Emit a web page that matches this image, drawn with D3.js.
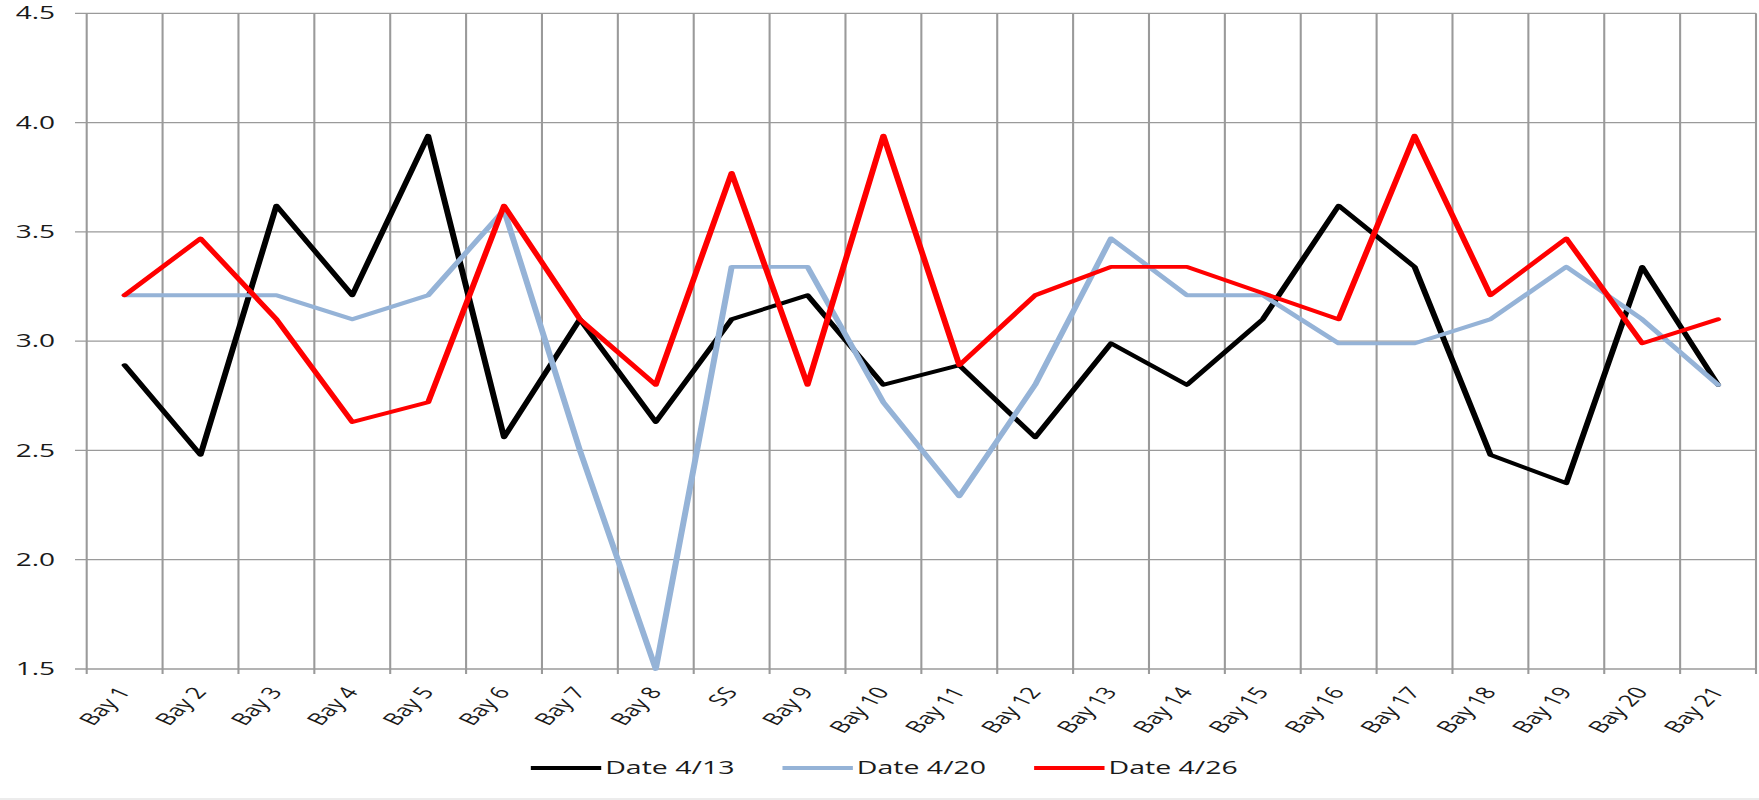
<!DOCTYPE html>
<html>
<head>
<meta charset="utf-8">
<script src="https://cdn.jsdelivr.net/npm/d3@7"></script>
<style>
html, body { margin: 0; padding: 0; background: #ffffff; overflow: hidden; }
svg { display: block; }
</style>
</head>
<body>
<svg id="chart" width="1759" height="800"></svg>
<script>
// ---------------- DATA ----------------
const categories = ["Bay 1","Bay 2","Bay 3","Bay 4","Bay 5","Bay 6","Bay 7","Bay 8","SS",
  "Bay 9","Bay 10","Bay 11","Bay 12","Bay 13","Bay 14","Bay 15","Bay 16","Bay 17",
  "Bay 18","Bay 19","Bay 20","Bay 21"];
const date0413 = [2.89, 2.48, 3.62, 3.21, 3.94, 2.56, 3.10, 2.63, 3.10, 3.21, 2.80,
  2.89, 2.56, 2.99, 2.80, 3.10, 3.62, 3.34, 2.48, 2.35, 3.34, 2.80];
const date0420 = [3.21, 3.21, 3.21, 3.10, 3.21, 3.60, 2.50, 1.50, 3.34, 3.34, 2.72,
  2.29, 2.80, 3.47, 3.21, 3.21, 2.99, 2.99, 3.10, 3.34, 3.10, 2.80];
const date0426 = [3.21, 3.47, 3.10, 2.63, 2.72, 3.62, 3.10, 2.80, 3.77, 2.80, 3.94,
  2.89, 3.21, 3.34, 3.34, 3.22, 3.10, 3.94, 3.21, 3.47, 2.99, 3.10];
const seriesNames = ["Date 4/13", "Date 4/20", "Date 4/26"];
const seriesColors = ["#000000", "#95B3D7", "#FF0000"];
const yTicks = [1.5, 2.0, 2.5, 3.0, 3.5, 4.0, 4.5];
const yDomain = [1.5, 4.5];

const seriesList = [date0413, date0420, date0426].map((vals, i) => ({
  name: seriesNames[i], color: seriesColors[i], values: vals
}));

// ---------------- LAYOUT ----------------
// The reference chart is horizontally stretched; draw in an unstretched
// coordinate space and stretch it with the viewBox.
const STRETCH = 1.6;
const FULL_W = 1759, H = 800;
const W = FULL_W / STRETCH;
const plotLeft = 86.7 / STRETCH, plotRight = 1756 / STRETCH;
const plotTop = 13.3, plotBottom = 669;

const svg = d3.select("#chart")
  .attr("viewBox", `0 0 ${W} ${H}`)
  .attr("preserveAspectRatio", "none");

const x = d3.scaleBand().domain(categories).range([plotLeft, plotRight]).padding(0);
const y = d3.scaleLinear().domain(yDomain).range([plotBottom, plotTop]);

const gridColor = "#9a9a9a";

// horizontal gridlines (with outside tick)
svg.append("g").selectAll("line").data(yTicks).join("line")
  .attr("x1", plotLeft - 7.3).attr("x2", plotRight)
  .attr("y1", d => y(d)).attr("y2", d => y(d))
  .attr("stroke", gridColor).attr("stroke-width", 1.3);

// vertical gridlines at category boundaries (with outside tick)
const bounds = categories.map(c => x(c)).concat([x(categories[categories.length - 1]) + x.bandwidth()]);
svg.append("g").selectAll("line").data(bounds).join("line")
  .attr("x1", d => d).attr("x2", d => d)
  .attr("y1", plotTop).attr("y2", plotBottom + 5)
  .attr("stroke", gridColor).attr("stroke-width", 1.3);

// y axis labels
const yAxis = d3.axisLeft(y).tickValues(yTicks).tickFormat(d3.format(".1f"))
  .tickSize(0).tickPadding(12.5);
const yg = svg.append("g").attr("transform", `translate(${plotLeft - 7.3},0)`).call(yAxis);
yg.select(".domain").remove();
yg.selectAll("text")
  .attr("font-family", "'Open Sans', sans-serif")
  .attr("font-size", 17.5)
  .attr("fill", "#1a1a1a");

// x axis labels
const xAxis = d3.axisBottom(x).tickSize(0).tickPadding(0);
const xg = svg.append("g").attr("transform", `translate(0,${plotBottom})`).call(xAxis);
xg.select(".domain").remove();
xg.selectAll("text")
  .attr("font-family", "'Open Sans', sans-serif")
  .attr("font-size", 16.5)
  .attr("fill", "#1a1a1a")
  .attr("text-anchor", "end")
  .attr("x", 0).attr("y", 0).attr("dy", "0.35em")
  .attr("transform", "translate(-0.5,20) rotate(-55)");

// series lines
const line = d3.line()
  .x((d, i) => x(categories[i]) + x.bandwidth() / 2)
  .y(d => y(d));

svg.append("g").selectAll("path").data(seriesList).join("path")
  .attr("d", s => line(s.values))
  .attr("fill", "none")
  .attr("stroke", s => s.color)
  .attr("stroke-width", 3.8)
  .attr("stroke-linejoin", "round")
  .attr("stroke-linecap", "round");

// legend
const legend = svg.append("g");
const lineLen = 44, gapText = 2.5, itemGap = 30, legendY = 768;
const items = legend.selectAll("g").data(seriesList).join("g");
items.append("line")
  .attr("x1", 0).attr("x2", lineLen)
  .attr("y1", 0).attr("y2", 0)
  .attr("stroke", s => s.color).attr("stroke-width", 3.8);
items.append("text")
  .attr("x", lineLen + gapText).attr("y", 0).attr("dy", "0.35em")
  .attr("font-family", "'Open Sans', sans-serif")
  .attr("font-size", 17.8)
  .attr("fill", "#1a1a1a")
  .text(s => s.name);
let widths = [];
items.each(function () {
  widths.push(lineLen + gapText + d3.select(this).select("text").node().getComputedTextLength());
});
const totalW = d3.sum(widths) + itemGap * (widths.length - 1);
let cx = W / 2 + 3 - totalW / 2;
items.attr("transform", (d, i) => {
  const t = `translate(${cx},${legendY})`;
  cx += widths[i] + itemGap;
  return t;
});

// bottom border line
svg.append("line")
  .attr("x1", 0).attr("x2", W).attr("y1", 799).attr("y2", 799)
  .attr("stroke", "#d9d9d9").attr("stroke-width", 1);
</script>
</body>
</html>
